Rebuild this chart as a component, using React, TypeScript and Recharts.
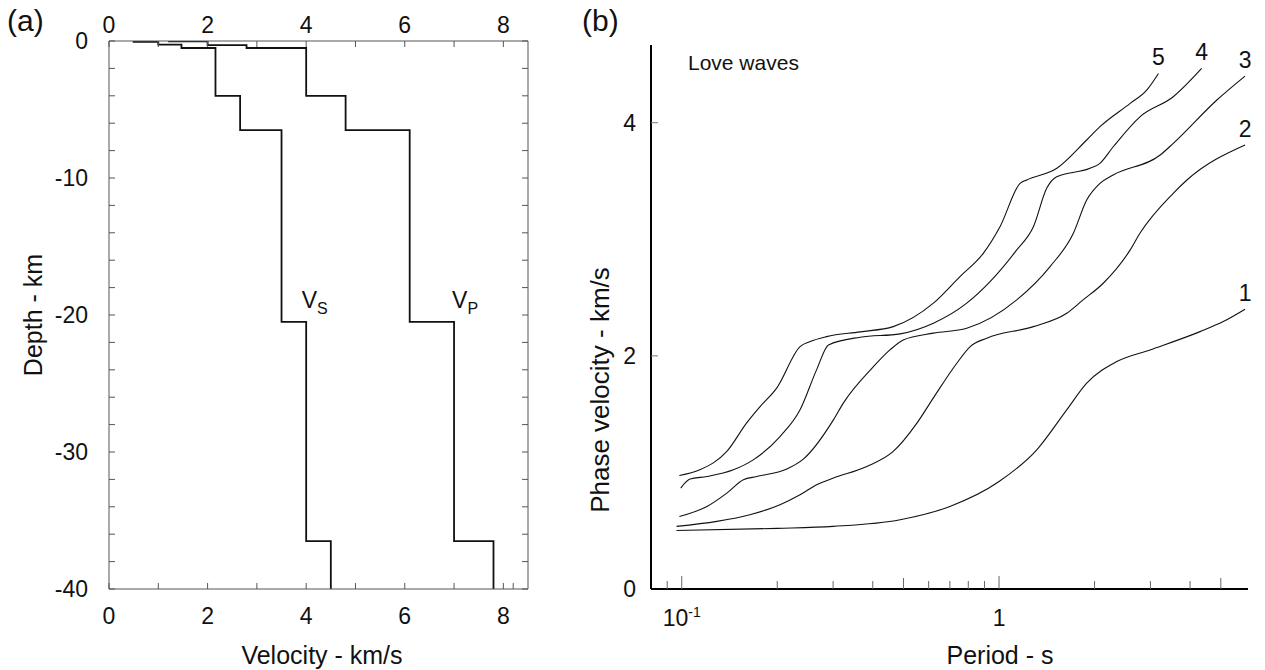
import React from "react";
import { LineChart, Line, XAxis, YAxis, ReferenceDot } from "recharts";

const FONT = '"Liberation Sans", Arial, Helvetica, sans-serif';
const INK = "#111";

// (a) velocity model, stepped profiles (km/s vs depth km)
const vsSpeed = [0.5, 0.5, 1.0, 1.0, 1.47, 1.47, 2.16, 2.16, 2.66, 2.66, 3.5, 3.5, 4.0, 4.0, 4.5, 4.5];
const vsDepth = [0, -0.07, -0.07, -0.27, -0.27, -0.51, -0.51, -4, -4, -6.5, -6.5, -20.5, -20.5, -36.5, -36.5, -40];
const vpSpeed = [1.2, 2.0, 2.0, 2.79, 2.79, 4.0, 4.0, 4.8, 4.8, 6.1, 6.1, 7.0, 7.0, 7.8, 7.8];
const vpDepth = [-0.03, -0.03, -0.3, -0.3, -0.51, -0.51, -4, -4, -6.5, -6.5, -20.5, -20.5, -36.5, -36.5, -40];

const velTicks = [0, 1, 2, 3, 4, 5, 6, 7, 8];
const velBottomTicks = [0, 1, 2, 3, 4, 5, 6, 7, 8, 8.2];
const velLabels = [0, 2, 4, 6, 8];
const depthTicks = [0, -2, -4, -6, -8, -10, -12, -14, -16, -18, -20, -22, -24, -26, -28, -30, -32, -34, -36, -38, -40];
const depthLabels = [0, -10, -20, -30, -40];

// (b) Love wave dispersion, phase velocity (km/s) vs period (s)
const mode1Period = [0.0963, 0.2, 0.3, 0.488, 0.7, 1.0, 1.315, 1.634, 1.889, 2.35, 2.99, 4.3, 5.09, 5.96];
const mode1Velocity = [0.502, 0.52, 0.537, 0.594, 0.708, 0.922, 1.194, 1.537, 1.766, 1.951, 2.051, 2.208, 2.294, 2.4];

const mode2Period = [0.0963, 0.129, 0.164, 0.204, 0.236, 0.266, 0.3006, 0.383, 0.464, 0.551, 0.621, 0.736, 0.811, 0.915, 1.283, 1.634, 1.84, 2.13, 2.59, 2.78, 3.54, 3.91, 5.96];
const mode2Velocity = [0.537, 0.58, 0.637, 0.723, 0.808, 0.894, 0.952, 1.051, 1.18, 1.423, 1.64, 1.937, 2.08, 2.152, 2.251, 2.366, 2.48, 2.623, 2.909, 3.052, 3.395, 3.509, 3.809];

const mode3Period = [0.0983, 0.12, 0.1387, 0.1564, 0.1723, 0.2143, 0.2416, 0.3006, 0.323, 0.402, 0.453, 0.499, 0.621, 0.791, 1.137, 1.448, 1.715, 1.889, 2.08, 2.29, 3.22, 3.54, 4.86, 5.96];
const mode3Velocity = [0.622, 0.708, 0.823, 0.937, 0.965, 1.029, 1.114, 1.451, 1.595, 1.908, 2.051, 2.137, 2.195, 2.237, 2.48, 2.766, 3.052, 3.337, 3.48, 3.552, 3.723, 3.823, 4.195, 4.4];

const mode4Period = [0.0993, 0.1062, 0.12, 0.1455, 0.168, 0.204, 0.236, 0.266, 0.29, 0.365, 0.488, 0.621, 0.791, 0.937, 1.137, 1.283, 1.414, 1.52, 1.935, 2.08, 2.29, 2.78, 3.54, 4.35];
const mode4Velocity = [0.866, 0.943, 0.965, 1.023, 1.108, 1.308, 1.537, 1.88, 2.094, 2.16, 2.189, 2.28, 2.452, 2.637, 2.909, 3.108, 3.44, 3.537, 3.609, 3.652, 3.794, 4.051, 4.223, 4.466];

const mode5Period = [0.0983, 0.114, 0.1387, 0.16, 0.1766, 0.1994, 0.236, 0.254, 0.286, 0.365, 0.464, 0.621, 0.753, 0.892, 1.007, 1.165, 1.223, 1.521, 1.889, 2.08, 2.59, 2.92, 3.18];
const mode5Velocity = [0.974, 1.023, 1.18, 1.423, 1.565, 1.726, 2.08, 2.123, 2.165, 2.206, 2.251, 2.452, 2.68, 2.88, 3.108, 3.48, 3.509, 3.609, 3.852, 3.966, 4.166, 4.28, 4.423];

const periodTicks = [0.09, 0.1, 0.2, 0.3, 0.4, 0.5, 0.6, 0.7, 0.8, 0.9, 1, 2, 3, 4, 5];
const phaseTicks = [0, 2, 4];

const profile = (vs: number[], ds: number[]) => vs.map((v, i) => ({ v, d: ds[i] }));
const curve = (ts: number[], vs: number[]) => ts.map((t, i) => ({ t, v: vs[i] }));

const vsData = profile(vsSpeed, vsDepth);
const vpData = profile(vpSpeed, vpDepth);

const modes = [
  { name: "1", data: curve(mode1Period, mode1Velocity) },
  { name: "2", data: curve(mode2Period, mode2Velocity) },
  { name: "3", data: curve(mode3Period, mode3Velocity) },
  { name: "4", data: curve(mode4Period, mode4Velocity) },
  { name: "5", data: curve(mode5Period, mode5Velocity) },
];

// ticks drawn inward, labels only on some of them
function VelBottomTick(props: any) {
  const { x, y, payload } = props;
  const v = payload.value;
  return (
    <g>
      <line x1={x} y1={y} x2={x} y2={y - 6} stroke="#555" />
      {velLabels.includes(v) && (
        <text x={x} y={y + 35} textAnchor="middle" fontSize={23} fill={INK} fontFamily={FONT}>{v}</text>
      )}
    </g>
  );
}

function VelTopTick(props: any) {
  const { x, y, payload } = props;
  const v = payload.value;
  return (
    <g>
      <line x1={x} y1={y} x2={x} y2={y + 6} stroke="#555" />
      {velLabels.includes(v) && (
        <text x={x} y={y - 8} textAnchor="middle" fontSize={23} fill={INK} fontFamily={FONT}>{v}</text>
      )}
    </g>
  );
}

function DepthLeftTick(props: any) {
  const { x, y, payload } = props;
  const d = payload.value;
  return (
    <g>
      <line x1={x} y1={y} x2={x + 6} y2={y} stroke="#555" />
      {depthLabels.includes(d) && (
        <text x={x - 21} y={y + 8} textAnchor="end" fontSize={23} fill={INK} fontFamily={FONT}>{d}</text>
      )}
    </g>
  );
}

function DepthRightTick(props: any) {
  const { x, y } = props;
  return <line x1={x} y1={y} x2={x - 6} y2={y} stroke="#555" />;
}

function PeriodTick(props: any) {
  const { x, y, payload } = props;
  const t = payload.value;
  const len = t === 0.1 || t === 1 ? 13 : t === 0.5 || t === 5 ? 11 : 8;
  return (
    <g>
      <line x1={x} y1={y} x2={x} y2={y - len} stroke="#666" />
      {t === 0.1 && (
        <text x={x} y={y + 37} textAnchor="middle" fontSize={23} fill={INK} fontFamily={FONT}>
          10<tspan fontSize={14} dy={-9}>-1</tspan>
        </text>
      )}
      {t === 1 && (
        <text x={x} y={y + 37} textAnchor="middle" fontSize={23} fill={INK} fontFamily={FONT}>1</text>
      )}
    </g>
  );
}

function PhaseTick(props: any) {
  const { x, y, payload } = props;
  const v = payload.value;
  return (
    <g>
      {v !== 0 && <line x1={x} y1={y} x2={x + 7} y2={y} stroke="#777" />}
      <text x={x - 15} y={y + 8} textAnchor="end" fontSize={23} fill={INK} fontFamily={FONT}>{v}</text>
    </g>
  );
}

const subText = (main: string, sub: string) => (p: any) => (
  <text x={p.cx} y={p.cy} fontSize={23} fill={INK} fontFamily={FONT}>
    {main}
    <tspan fontSize={16} dy={6}>{sub}</tspan>
  </text>
);

const endText = (label: string) => (p: any) => (
  <text x={p.cx} y={p.cy - 8} textAnchor="middle" fontSize={23} fill={INK} fontFamily={FONT}>{label}</text>
);

const abs = (left: number, top: number, extra: React.CSSProperties = {}): React.CSSProperties => ({
  position: "absolute",
  left,
  top,
  fontFamily: FONT,
  fontSize: 25,
  color: INK,
  lineHeight: 1,
  whiteSpace: "nowrap",
  ...extra,
});

export default function App() {
  return (
    <div style={{ position: "absolute", left: 0, top: 0, width: 1265, height: 670, background: "#fff", overflow: "hidden" }}>
      <div style={{ position: "absolute", left: 0, top: 0 }}>
        <LineChart width={560} height={670} margin={{ top: 0, right: 0, bottom: 0, left: 0 }}>
          <XAxis xAxisId="bottom" dataKey="v" type="number" orientation="bottom" domain={[0, 8.5]}
            ticks={velBottomTicks} interval={0} height={81} tickSize={0} tickMargin={0} tickLine={false}
            axisLine={{ stroke: "#555", strokeWidth: 1 }} tick={<VelBottomTick />} allowDataOverflow />
          <XAxis xAxisId="top" dataKey="v" type="number" orientation="top" domain={[0, 8.5]}
            ticks={velTicks} interval={0} height={41} tickSize={0} tickMargin={0} tickLine={false}
            axisLine={{ stroke: "#555", strokeWidth: 1 }} tick={<VelTopTick />} allowDataOverflow />
          <YAxis yAxisId="left" type="number" domain={[-40, 0]} ticks={depthTicks} interval={0} width={109}
            tickSize={0} tickMargin={0} tickLine={false} axisLine={{ stroke: "#555", strokeWidth: 1 }}
            tick={<DepthLeftTick />} allowDataOverflow />
          <YAxis yAxisId="right" orientation="right" type="number" domain={[-40, 0]} ticks={depthTicks} interval={0}
            width={32} tickSize={0} tickMargin={0} tickLine={false} axisLine={{ stroke: "#555", strokeWidth: 1 }}
            tick={<DepthRightTick />} allowDataOverflow />
          <Line xAxisId="bottom" yAxisId="left" data={vsData} dataKey="d" type="linear" stroke={INK}
            strokeWidth={1.8} dot={false} isAnimationActive={false} />
          <Line xAxisId="bottom" yAxisId="left" data={vpData} dataKey="d" type="linear" stroke={INK}
            strokeWidth={1.8} dot={false} isAnimationActive={false} />
          <ReferenceDot xAxisId="bottom" yAxisId="left" x={3.91} y={-19.5} r={0} shape={subText("V", "S")} />
          <ReferenceDot xAxisId="bottom" yAxisId="left" x={6.96} y={-19.5} r={0} shape={subText("V", "P")} />
        </LineChart>
      </div>

      <div style={{ position: "absolute", left: 560, top: 0 }}>
        <LineChart width={705} height={670} margin={{ top: 45, right: 17, bottom: 0, left: 0 }}>
          <XAxis dataKey="t" type="number" scale="log" domain={[0.08, 6.09]} ticks={periodTicks} interval={0}
            height={81} tickSize={0} tickMargin={0} tickLine={false} allowDataOverflow
            axisLine={{ stroke: "#000", strokeWidth: 2 }} tick={<PeriodTick />} />
          <YAxis type="number" domain={[0, 4.667]} ticks={phaseTicks} interval={0} width={91} tickSize={0}
            tickMargin={0} tickLine={false} allowDataOverflow axisLine={{ stroke: "#000", strokeWidth: 2 }}
            tick={<PhaseTick />} />
          {modes.map((m) => (
            <Line key={m.name} data={m.data} dataKey="v" type="monotone" stroke={INK} strokeWidth={1.1}
              dot={false} isAnimationActive={false} />
          ))}
          {modes.map((m) => {
            const last = m.data[m.data.length - 1];
            return <ReferenceDot key={"l" + m.name} x={last.t} y={last.v} r={0} shape={endText(m.name)} />;
          })}
        </LineChart>
      </div>

      <div style={abs(7, 6, { fontSize: 30 })}>(a)</div>
      <div style={abs(582, 6, { fontSize: 30 })}>(b)</div>
      <div style={abs(33, 315, { transform: "translate(-50%, -50%) rotate(-90deg)" })}>Depth - km</div>
      <div style={abs(322, 655, { transform: "translate(-50%, -50%)" })}>Velocity - km/s</div>
      <div style={abs(600, 390, { transform: "translate(-50%, -50%) rotate(-90deg)", fontSize: 26 })}>Phase velocity - km/s</div>
      <div style={abs(1000, 655, { transform: "translate(-50%, -50%)" })}>Period - s</div>
      <div style={abs(688, 52, { fontSize: 21 })}>Love waves</div>
    </div>
  );
}
